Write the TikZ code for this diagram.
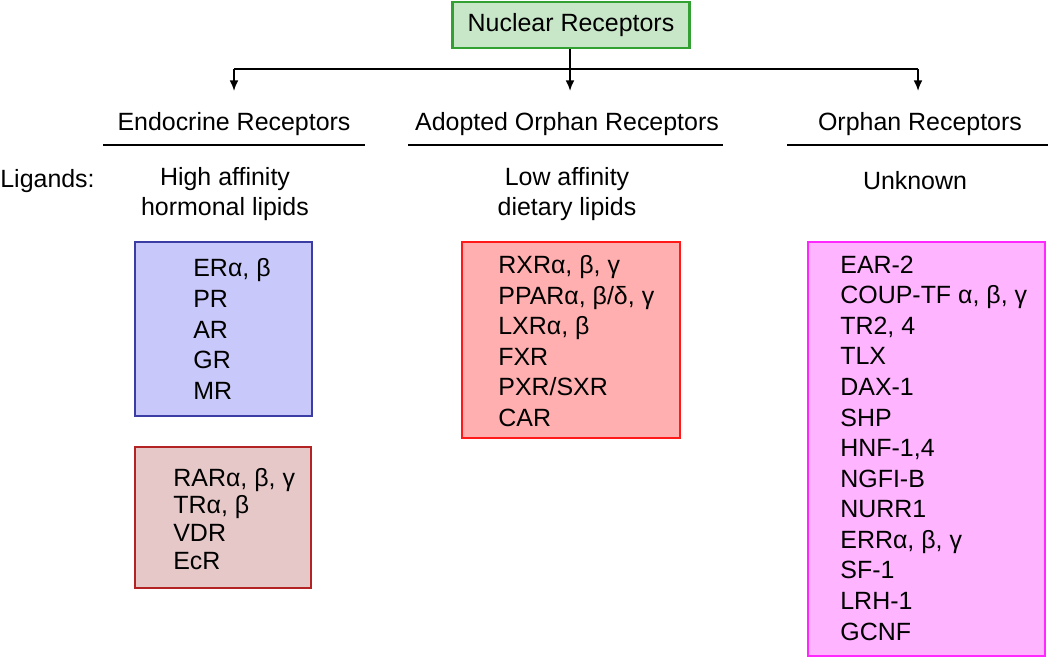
\documentclass[tikz,border=0pt]{standalone}
\usepackage{fontspec}
\setmainfont{Liberation Sans}
\usetikzlibrary{arrows.meta,positioning,fit}
\definecolor{nrgruen}{RGB}{200,230,200}
\definecolor{nrgruenrand}{RGB}{50,160,50}
\definecolor{endoblau}{RGB}{200,200,250}
\definecolor{endoblaurand}{RGB}{60,60,165}
\definecolor{endobraun}{RGB}{230,200,200}
\definecolor{endobraunrand}{RGB}{180,35,35}
\definecolor{adoptrot}{RGB}{255,175,175}
\definecolor{adoptrotrand}{RGB}{255,25,25}
\definecolor{orphmag}{RGB}{255,180,255}
\definecolor{orphmagrand}{RGB}{255,40,255}
\begin{document}
\begin{tikzpicture}[x=0.02cm,y=-0.02cm,
  every node/.style={font=\fontsize{14.2}{17.4}\selectfont, inner sep=0pt},
  kasten/.style={line width=1.5pt, inner sep=0pt},
  liste/.style={align=left, anchor=west},
  pfeil/.style={line width=1pt, -{Latex[length=6pt,width=5pt]}},
  strich/.style={line width=1pt}]
\useasboundingbox (0,0) rectangle (1050,658);
%Oben
\node[kasten, draw=nrgruenrand, fill=nrgruen, minimum width=4.74cm, minimum height=0.92cm] (nr) at (571,25) {Nuclear Receptors};
\coordinate (barE) at (234,69);
\coordinate (barM) at (570,69);
\coordinate (barR) at (918,69);
\coordinate (tipE) at (234,91);
\coordinate (tipM) at (570,91);
\coordinate (tipR) at (918,91);
\draw[strich] (nr.south -| barM) -- (barM);
\draw[strich] (barE) -- (barR);
\draw[pfeil] (barE) -- (tipE);
\draw[pfeil] (barM) -- (tipM);
\draw[pfeil] (barR) -- (tipR);
%Ueberschriften
\node (endo) at (234,124) {Endocrine Receptors};
\node (adopt) at (567,124) {Adopted Orphan Receptors};
\node (orph) at (920,124) {Orphan Receptors};
\coordinate (uEl) at (103,145); \coordinate (uEr) at (365,145);
\coordinate (uAl) at (408,145); \coordinate (uAr) at (723,145);
\coordinate (uOl) at (787,145); \coordinate (uOr) at (1048,145);
\draw[strich] (uEl) -- (uEr);
\draw[strich] (uAl) -- (uAr);
\draw[strich] (uOl) -- (uOr);
%Liganden
\node[anchor=west] (lig) at (0,181) {Ligands:};
\node[align=center] (ligE) at (225,194) {High affinity\\hormonal lipids};
\node[align=center] (ligA) at (567,194) {Low affinity\\dietary lipids};
\node (ligO) at (915,181) {Unknown};
%Kaesten
\node[kasten, draw=endoblaurand, fill=endoblau, fit={(135,242) (312,416)}] (blau) {};
\node[liste] (blauliste) at (193,329) {ERα, β\\PR\\AR\\GR\\MR};
\node[kasten, draw=endobraunrand, fill=endobraun, fit={(135,447) (311,588)}] (braun) {};
\node[liste, font=\fontsize{14.2}{15.9}\selectfont] (braunliste) at (173,519) {RARα, β, γ\\TRα, β\\VDR\\EcR};
\node[kasten, draw=adoptrotrand, fill=adoptrot, fit={(462,242) (680,438)}] (rot) {};
\node[liste] (rotliste) at (498,341) {RXRα, β, γ\\PPARα, β/δ, γ\\LXRα, β\\FXR\\PXR/SXR\\CAR};
\node[kasten, draw=orphmagrand, fill=orphmag, fit={(808,242) (1045,656)}] (mag) {};
\node[liste] (magliste) at (840,448) {EAR-2\\COUP-TF α, β, γ\\TR2, 4\\TLX\\DAX-1\\SHP\\HNF-1,4\\NGFI-B\\NURR1\\ERRα, β, γ\\SF-1\\LRH-1\\GCNF};
\end{tikzpicture}
\end{document}
